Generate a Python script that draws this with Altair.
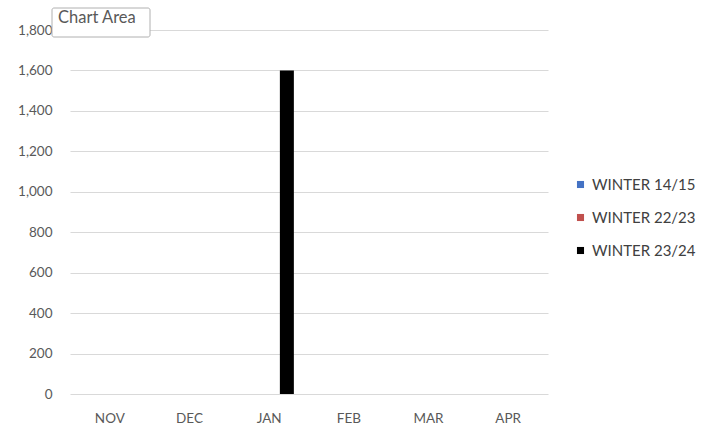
import altair as alt
import pandas as pd

months = ["NOV", "DEC", "JAN", "FEB", "MAR", "APR"]
series_names = ["WINTER 14/15", "WINTER 22/23", "WINTER 23/24"]
winter_14_15 = [0, 0, 0, 0, 0, 0]
winter_22_23 = [0, 0, 0, 0, 0, 0]
winter_23_24 = [0, 0, 1600, 0, 0, 0]
series_colors = ["#4472C4", "#C0504D", "#000000"]
y_ticks = [0, 200, 400, 600, 800, 1000, 1200, 1400, 1600, 1800]

rows = []
for name, vals in zip(series_names, [winter_14_15, winter_22_23, winter_23_24]):
    for m, v in zip(months, vals):
        rows.append({"month": m, "series": name, "value": v})
df = pd.DataFrame(rows)

FONT = "Lato"

bars = alt.Chart(df).mark_bar().encode(
    x=alt.X("month:N", sort=months,
            scale=alt.Scale(paddingInner=0.38, paddingOuter=0.19),
            axis=alt.Axis(title=None, labelAngle=0, labelPadding=17, labelFontSize=13.5,
                          labelColor="#595959", labelFont=FONT, ticks=False,
                          domain=False, grid=False)),
    xOffset=alt.XOffset("series:N", sort=series_names,
                        scale=alt.Scale(paddingInner=0.21, paddingOuter=0)),
    y=alt.Y("value:Q",
            scale=alt.Scale(domain=[0, 1800], nice=False),
            axis=alt.Axis(title=None, values=y_ticks, format=",.0f", labelPadding=18,
                          labelFontSize=13.5, labelColor="#595959", labelFont=FONT,
                          ticks=False, domain=False, gridColor="#d9d9d9",
                          gridWidth=1)),
    color=alt.Color("series:N", sort=series_names,
                    scale=alt.Scale(domain=series_names, range=series_colors),
                    legend=alt.Legend(title=None, orient="none", legendX=503,
                                      legendY=147, symbolType="square",
                                      symbolSize=50, symbolStrokeWidth=0,
                                      labelFontSize=15, labelColor="#404040",
                                      labelFont=FONT, rowPadding=17,
                                      labelOffset=4)),
)

box = alt.Chart(alt.Data(values=[{"t": "Chart Area"}])).mark_rect(
    fill="white", stroke="#b0b0b0", strokeWidth=1, cornerRadius=2
).encode(
    x=alt.value(-18), x2=alt.value(80), y=alt.value(-22), y2=alt.value(7)
)

box_text = alt.Chart(alt.Data(values=[{"t": "Chart Area"}])).mark_text(
    align="left", baseline="middle", fontSize=16.5, color="#595959", font=FONT
).encode(
    x=alt.value(-12), y=alt.value(-12), text="t:N"
)

chart = alt.layer(bars, box, box_text).properties(
    width=478, height=364,
    background="white",
    autosize=alt.AutoSizeParams(type="none"),
    padding={"left": 70, "top": 30, "right": 157, "bottom": 32},
).configure_view(stroke="transparent", strokeWidth=0)

chart.save("out.html", embed_options={"renderer": "svg", "actions": False})
